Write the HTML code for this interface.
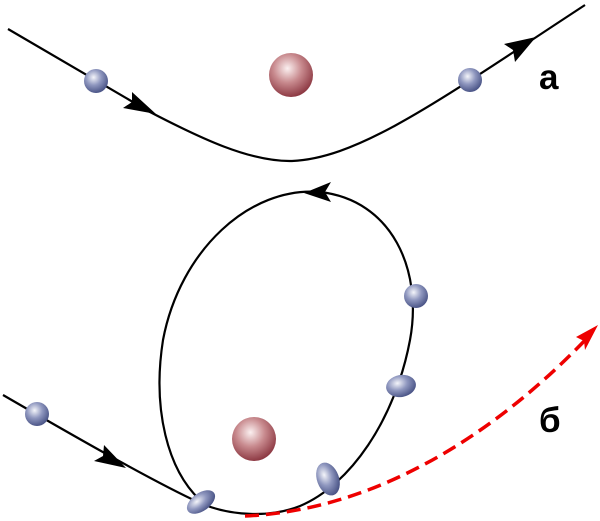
<!DOCTYPE html>
<html><head><meta charset="utf-8"><style>html,body{margin:0;padding:0;background:#fff}svg{display:block}</style></head>
<body>
<svg width="600" height="521" viewBox="0 0 600 521" xmlns="http://www.w3.org/2000/svg">
<defs>
<radialGradient id="b" cx="0.4" cy="0.35" r="0.65"><stop offset="0" stop-color="#f4f5fa"/><stop offset="0.5" stop-color="#8f97bf"/><stop offset="1" stop-color="#4c5688"/></radialGradient>
<radialGradient id="r" cx="0.42" cy="0.35" r="0.65"><stop offset="0" stop-color="#fbf0f0"/><stop offset="0.5" stop-color="#c88a8e"/><stop offset="1" stop-color="#8e3a44"/></radialGradient>
</defs>
<g fill="none" stroke="#000" stroke-width="2.2">
<path d="M8,29 L150,112 C200,138 250,162 292,161 C360,158 440,100 585,5"/>
<path d="M3,395 C60,428 150,480 200,503 C230,516 270,518 300,506 C350,485 395,420 410,340 C423,270 392,200 320,192 C250,186 180,250 163,340 C152,410 168,470 200,500"/>
<path d="M245,516 C380,510 500,430 590,335" stroke="#e00" stroke-width="3.5" stroke-dasharray="14,7"/>
</g>
<g fill="#000">
<polygon points="156,114 123,108 132,102 132,92"/>
<polygon points="536,37 504,44 513,50 515,62"/>
<polygon points="126,468 94,461 103,456 104,445"/>
<polygon points="304,193 331,182 325,192 331,202"/>
</g>
<polygon points="598,325 576,337 584,341 585,350" fill="#e00"/>
<circle cx="291" cy="75" r="22" fill="url(#r)"/>
<circle cx="254" cy="439" r="22" fill="url(#r)"/>
<circle cx="96" cy="81" r="12" fill="url(#b)"/>
<circle cx="470" cy="80" r="12" fill="url(#b)"/>
<circle cx="37" cy="414" r="12" fill="url(#b)"/>
<circle cx="416" cy="296" r="12" fill="url(#b)"/>
<ellipse cx="401" cy="386" rx="15" ry="11" transform="rotate(-10 401 386)" fill="url(#b)"/>
<ellipse cx="328" cy="479" rx="11" ry="17" transform="rotate(-20 328 479)" fill="url(#b)"/>
<ellipse cx="201" cy="502" rx="16" ry="9" transform="rotate(-35 201 502)" fill="url(#b)"/>
<text x="539" y="89" font-family="Liberation Sans, sans-serif" font-weight="bold" font-size="35">а</text>
<text x="539" y="432" font-family="Liberation Sans, sans-serif" font-weight="bold" font-size="35">б</text>
</svg>
</body></html>
